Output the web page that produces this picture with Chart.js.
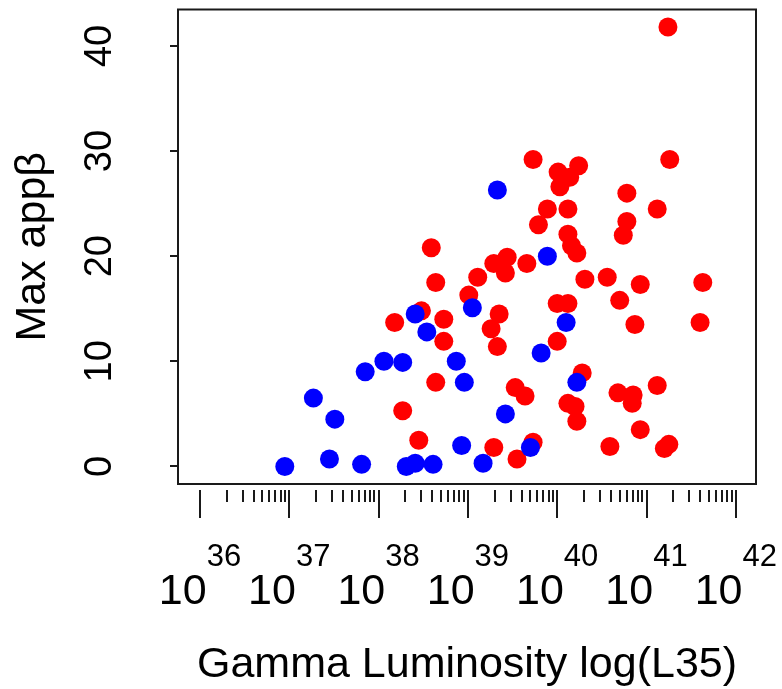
<!DOCTYPE html>
<html>
<head>
<meta charset="utf-8">
<script src="https://cdn.jsdelivr.net/npm/chart.js@4.4.0/dist/chart.umd.min.js"></script>
<style>
  body { margin: 0; background: #fff; }
</style>
</head>
<body>
<canvas id="myChart" width="782" height="689"></canvas>
<script>
// exponents of the gamma luminosity (10^x) and max apparent beta
const redLogL = [41.24, 41.26, 39.73, 40.01, 40.24, 40.14, 40.03, 40.78, 41.12, 39.89,
                 40.12, 39.79, 40.78, 40.74, 40.12, 40.16, 40.22, 38.59, 38.64, 39.29,
                 39.44, 39.42, 39.66, 39.11, 40.31, 40.56, 40.93, 41.63, 39.01, 40.70,
                 40.00, 40.12, 39.35, 38.73, 38.48, 38.18, 39.26, 40.87, 41.60, 38.73,
                 39.33, 40.00, 40.28, 38.64, 39.53, 39.64, 40.68, 40.85, 40.84, 41.12,
                 40.12, 40.20, 40.22, 38.27, 38.45, 40.93, 40.59, 41.20, 41.25, 39.29,
                 39.73, 39.55];
const redBeta = [41.8, 29.2, 29.2, 28.0, 28.6, 27.5, 26.6, 26.0, 24.5, 24.5,
                 24.5, 23.0, 23.3, 22.0, 22.1, 21.0, 20.3, 20.8, 17.5, 19.3,
                 19.9, 18.4, 19.3, 18.0, 17.8, 18.0, 17.3, 17.5, 16.3, 15.8,
                 15.5, 15.5, 14.5, 14.0, 14.8, 13.7, 13.1, 13.5, 13.7, 11.9,
                 11.4, 11.9, 8.9, 8.0, 7.5, 6.7, 7.0, 6.8, 6.0, 7.7,
                 6.0, 5.7, 4.3, 5.3, 2.5, 3.5, 1.9, 1.7, 2.1, 1.8,
                 2.3, 0.7];
const blueLogL = [36.95, 37.27, 37.51, 37.45, 37.81, 37.85, 38.06, 38.27, 38.41, 38.54,
                  38.31, 38.41, 38.61, 38.87, 38.96, 38.93, 39.05, 39.17, 39.33, 39.42,
                  39.70, 39.82, 39.89, 40.10, 40.22];
const blueBeta = [0.0, 6.5, 4.5, 0.7, 0.2, 9.0, 10.0, 9.9, 14.5, 12.8,
                  0.0, 0.3, 0.2, 10.0, 8.0, 2.0, 15.1, 0.3, 26.3, 5.0,
                  1.8, 10.8, 20.0, 13.7, 8.0];
const xTickPowers = [36, 37, 38, 39, 40, 41, 42];
const yTicks = [0, 10, 20, 30, 40];

function toPoints(logL, beta) {
  return logL.map((e, i) => ({ x: Math.pow(10, e), y: beta[i] }));
}

const FONT = '"Liberation Sans", Arial, sans-serif';

// R style box, ticks and labels
const rAxes = {
  id: 'rAxes',
  afterDraw(chart) {
    const ctx = chart.ctx;
    const a = chart.chartArea;
    const xs = chart.scales.x, ys = chart.scales.y;
    ctx.save();
    ctx.strokeStyle = '#1a1a1a';
    ctx.fillStyle = '#000';
    ctx.lineWidth = 2;
    ctx.strokeRect(a.left, a.top, a.right - a.left, a.bottom - a.top);

    // y ticks + rotated labels
    ctx.beginPath();
    yTicks.forEach(v => {
      const y = Math.round(ys.getPixelForValue(v));
      ctx.moveTo(a.left - 8, y);
      ctx.lineTo(a.left, y);
    });
    ctx.stroke();
    ctx.font = '38px ' + FONT;
    ctx.textAlign = 'center';
    ctx.textBaseline = 'alphabetic';
    yTicks.forEach(v => {
      const y = ys.getPixelForValue(v);
      ctx.save();
      ctx.translate(111, y);
      ctx.rotate(-Math.PI / 2);
      ctx.fillText(String(v), 0, 0);
      ctx.restore();
    });

    // x ticks: major at powers of ten, minor at 2..9
    const top = a.bottom + 6;
    ctx.beginPath();
    xTickPowers.forEach((p, i) => {
      const x = Math.round(xs.getPixelForValue(Math.pow(10, p)));
      ctx.moveTo(x, top);
      ctx.lineTo(x, top + 28);
      if (i < xTickPowers.length - 1) {
        for (let k = 2; k <= 9; k++) {
          const xm = Math.round(xs.getPixelForValue(k * Math.pow(10, p)));
          ctx.moveTo(xm, top);
          ctx.lineTo(xm, top + 12);
        }
      }
    });
    ctx.stroke();

    // 10^n labels
    ctx.textAlign = 'left';
    xTickPowers.forEach(p => {
      const x = xs.getPixelForValue(Math.pow(10, p));
      ctx.font = '43px ' + FONT;
      const wBase = ctx.measureText('10').width;
      ctx.font = '31px ' + FONT;
      const wSup = ctx.measureText(String(p)).width;
      const x0 = x - (wBase + wSup) / 2;
      ctx.font = '43px ' + FONT;
      ctx.fillText('10', x0, 604);
      ctx.font = '31px ' + FONT;
      ctx.fillText(String(p), x0 + wBase, 566);
    });

    // axis titles
    ctx.font = '43px ' + FONT;
    ctx.textAlign = 'center';
    ctx.fillText('Gamma Luminosity log(L35)', (a.left + a.right) / 2, 677);
    ctx.save();
    ctx.translate(45, (a.top + a.bottom) / 2);
    ctx.rotate(-Math.PI / 2);
    ctx.fillText('Max appβ', 0, 0);
    ctx.restore();
    ctx.restore();
  }
};

new Chart("myChart", {
  type: "scatter",
  data: {
    datasets: [{
      data: toPoints(blueLogL, blueBeta),
      backgroundColor: "#0000FF",
      borderWidth: 0,
      pointRadius: 9.5,
      order: 0
    }, {
      data: toPoints(redLogL, redBeta),
      backgroundColor: "#FF0000",
      borderWidth: 0,
      pointRadius: 9.5,
      order: 1
    }]
  },
  options: {
    responsive: false,
    animation: false,
    devicePixelRatio: 1,
    layout: { padding: { left: 0, top: 9, right: 26, bottom: 0 } },
    plugins: { legend: { display: false }, tooltip: { enabled: false } },
    scales: {
      x: {
        type: "logarithmic",
        min: Math.pow(10, 35.754),
        max: Math.pow(10, 42.226),
        ticks: { display: false },
        grid: { display: false },
        border: { display: false },
        afterFit: s => { s.height = 689 - 484; }
      },
      y: {
        min: -1.67,
        max: 43.47,
        ticks: { display: false },
        grid: { display: false },
        border: { display: false },
        afterFit: s => { s.width = 178; }
      }
    }
  },
  plugins: [rAxes]
});
</script>
</body>
</html>
